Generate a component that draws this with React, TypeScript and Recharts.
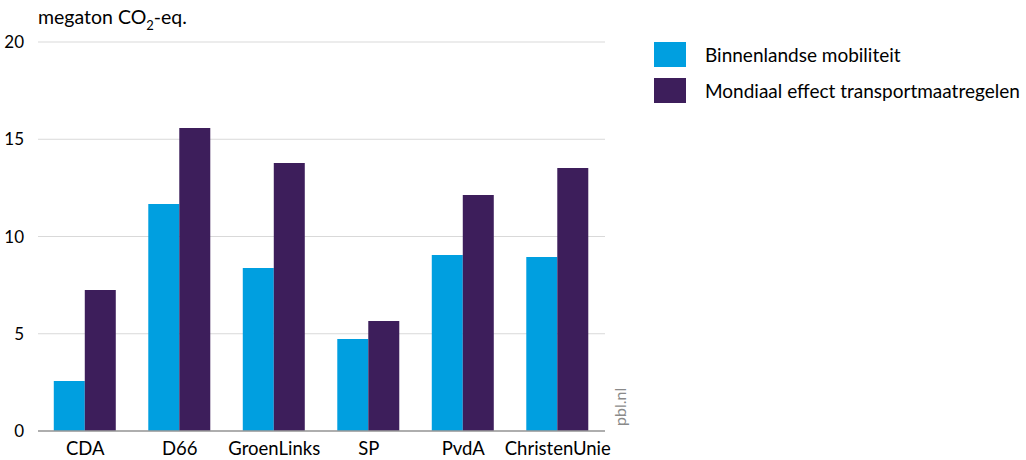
import React from "react";
import { BarChart, Bar, XAxis, YAxis, CartesianGrid } from "recharts";

const parties = ["CDA", "D66", "GroenLinks", "SP", "PvdA", "ChristenUnie"];
const binnenlands = [2.57, 11.67, 8.38, 4.73, 9.05, 8.95];
const mondiaal = [7.25, 15.58, 13.78, 5.66, 12.13, 13.52];
const yTicks = [0, 5, 10, 15, 20];

const BLUE = "#009fe0";
const PURPLE = "#3d1e5b";
const FONT = "Lato, 'Noto Sans', sans-serif";

const data = parties.map((p, i) => ({
  name: p,
  binnenlands: binnenlands[i],
  mondiaal: mondiaal[i],
}));

export default function App() {
  return (
    <div style={{ position: "absolute", left: 0, top: 0, width: 1026, height: 460, fontFamily: FONT, background: "#fff" }}>
      <div style={{ position: "absolute", left: 38, top: 5, fontSize: 19.5, color: "#000", lineHeight: "24px" }}>
        megaton CO<sub style={{ fontSize: 13, verticalAlign: "-6px", lineHeight: 0 }}>2</sub>-eq.
      </div>
      <BarChart
        width={1026}
        height={460}
        data={data}
        margin={{ top: 42, right: 421, left: 0, bottom: 0 }}
        barCategoryGap="16.7%"
        barGap={0}
      >
        <CartesianGrid vertical={false} stroke="#d9d9d9" strokeWidth={1} />
        <XAxis
          dataKey="name"
          height={29}
          tickLine={false}
          axisLine={{ stroke: "#9a9a9a", strokeWidth: 1.5 }}
          tick={{ fill: "#000", fontSize: 18.5, fontFamily: FONT }}
          tickMargin={5}
        />
        <YAxis
          width={38}
          domain={[0, 20]}
          ticks={yTicks}
          tickLine={false}
          axisLine={false}
          tick={{ fill: "#000", fontSize: 17, fontFamily: FONT }}
          tickMargin={8}
        />
        <Bar dataKey="binnenlands" fill={BLUE} isAnimationActive={false} />
        <Bar dataKey="mondiaal" fill={PURPLE} isAnimationActive={false} />
      </BarChart>
      <div
        style={{
          position: "absolute",
          left: 610,
          top: 426,
          transform: "rotate(-90deg)",
          transformOrigin: "0 0",
          fontSize: 16,
          color: "#8a8a8a",
        }}
      >
        pbl.nl
      </div>
      <div style={{ position: "absolute", left: 654, top: 36, fontSize: 19, color: "#000" }}>
        {[
          { label: "Binnenlandse mobiliteit", color: BLUE },
          { label: "Mondiaal effect transportmaatregelen", color: PURPLE },
        ].map((it) => (
          <div key={it.label} style={{ display: "flex", alignItems: "center", height: 36 }}>
            <div style={{ width: 32, height: 25, background: it.color, marginRight: 19 }} />
            <span>{it.label}</span>
          </div>
        ))}
      </div>
    </div>
  );
}
